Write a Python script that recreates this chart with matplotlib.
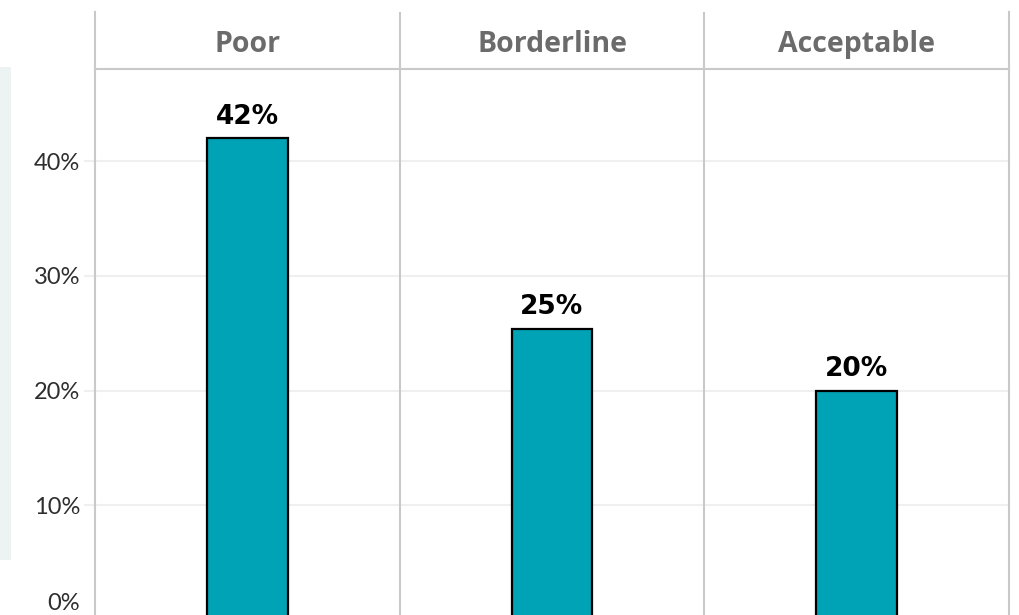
import matplotlib
matplotlib.use("Agg")
import matplotlib.pyplot as plt
import matplotlib.transforms as mtransforms
from matplotlib.patches import Rectangle

# Data
categories = ["Poor", "Borderline", "Acceptable"]
shares = [42.0, 25.4, 20.0]          # percent of responses
y_ticks = [10, 20, 30, 40]
y_tick_labels = ["10%", "20%", "30%", "40%"]

BAR_COLOR = "#00a3b5"
RULE_COLOR = "#c9c9c9"
GRID_COLOR = "#efefef"
HEADER_TEXT = "#6b6b6b"
TICK_TEXT = "#2e2e2e"

W, H = 1019, 615
fig = plt.figure(figsize=(W / 100, H / 100), dpi=100)
fig.patch.set_facecolor("white")

def fx(px):
    return px / W

def fy(py):
    return 1 - py / H

x_left, x_right = 95, 1009
y_head_top, y_head_bot, y_zero = 12, 69, 620

# Light side panel on the far left
fig.patches.append(Rectangle((fx(0), fy(560)), fx(11), fy(67) - fy(560),
                             transform=fig.transFigure, facecolor="#edf2f3",
                             edgecolor="none", zorder=0))

# Main plotting area
ax = fig.add_axes([fx(x_left), fy(y_zero), fx(x_right) - fx(x_left),
                   fy(y_head_bot) - fy(y_zero)])
ax.set_xlim(-0.5, len(categories) - 0.5)
ax.set_ylim(0, 48.05)

for y in y_ticks:
    ax.axhline(y, xmin=-(x_left - 85) / (x_right - x_left), xmax=1,
               color=GRID_COLOR, lw=1.5, zorder=0, clip_on=False)

xs = list(range(len(categories)))
ax.bar(xs, shares, width=0.265, color=BAR_COLOR, edgecolor="black",
       linewidth=1.6, zorder=3)

for x, v in zip(xs, shares):
    ax.annotate(f"{v:.0f}%", (x, v), xytext=(0, 10.5), textcoords="offset points",
                ha="center", va="baseline", fontsize=19, fontweight="bold",
                family="DejaVu Sans", color="black", zorder=4)

for sep in [0.5, 1.5]:
    ax.axvline(sep, color=RULE_COLOR, lw=1.5, zorder=1)

ax.set_xticks([])
ax.set_yticks(y_ticks)
ax.set_yticklabels(y_tick_labels)
ax.tick_params(axis="y", length=0, pad=10.8, labelsize=17, labelcolor=TICK_TEXT)
for lbl in ax.get_yticklabels():
    lbl.set_family(["Lato", "DejaVu Sans"])
    lbl.set_fontweight("normal")

# Zero label sits just above the lower edge of the canvas
zero_tr = mtransforms.offset_copy(ax.get_yaxis_transform(), fig=fig, x=-10.8, y=12.2,
                                  units="points")
ax.text(0, 0, "0%", transform=zero_tr, ha="right", va="center", fontsize=17,
        family=["Lato", "DejaVu Sans"], fontweight="normal", color=TICK_TEXT)

for side in ["left", "right", "top"]:
    ax.spines[side].set_color(RULE_COLOR)
    ax.spines[side].set_linewidth(1.5)
ax.spines["bottom"].set_visible(False)

# Column header strip
hx = fig.add_axes([fx(x_left), fy(y_head_bot), fx(x_right) - fx(x_left),
                   fy(y_head_top) - fy(y_head_bot)])
hx.set_xlim(-0.5, len(categories) - 0.5)
hx.set_ylim(0, 1)
hx.set_xticks([])
hx.set_yticks([])
hx.patch.set_alpha(0)
for side in ["top", "bottom"]:
    hx.spines[side].set_visible(False)
for side in ["left", "right"]:
    hx.spines[side].set_color(RULE_COLOR)
    hx.spines[side].set_linewidth(1.5)
for sep in [0.5, 1.5]:
    hx.axvline(sep, color=RULE_COLOR, lw=1.5)
for x, name in zip(xs, categories):
    hx.text(x, 0.43, name, ha="center", va="center", fontsize=20.5,
            fontweight="bold", family=["Open Sans", "DejaVu Sans"], color=HEADER_TEXT)

fig.savefig("out.png", dpi=100, facecolor="white")
